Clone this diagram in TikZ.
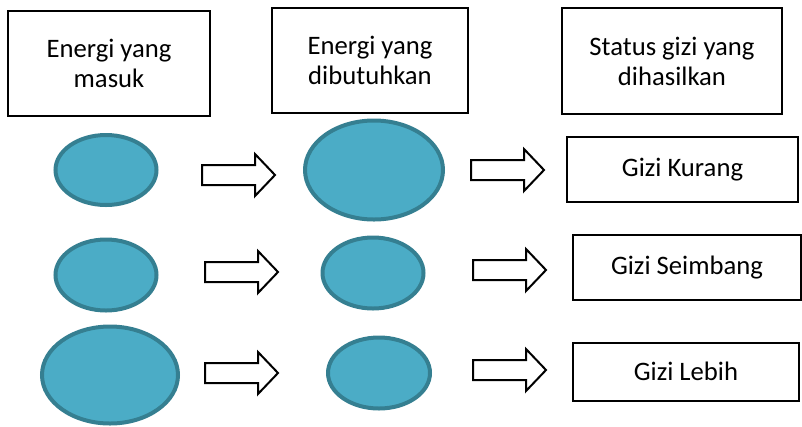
\documentclass[tikz,border=0pt]{standalone}
\usepackage{fontspec}
\setmainfont{Carlito}
\usetikzlibrary{shapes.geometric}
\definecolor{blobfill}{HTML}{4BACC6}
\definecolor{blobline}{HTML}{357F91}
\begin{document}
\begin{tikzpicture}[x=0.75pt,y=-0.75pt,
  font=\fontsize{20}{22.5}\selectfont,
  headbox/.style={draw,line width=1.5pt,align=center,inner sep=0pt},
  blob/.style={ellipse,draw=blobline,fill=blobfill,line width=3pt,inner sep=0pt},
  fatarrow/.pic={\draw[line width=1.5pt,line join=miter](0,-10)--(53,-10)--(53,-21)--(73,0)--(53,21)--(53,10)--(0,10)--cycle;}]
\useasboundingbox (0,0) rectangle (802,426);
% judul kolom
\node[headbox,minimum width=151.5pt,minimum height=78.75pt](masuk) at (109,63.5){Energi yang\\masuk};
\node[headbox,minimum width=147pt,minimum height=78.75pt](butuh) at (370,60.5){Energi yang\\dibutuhkan};
\node[headbox,minimum width=165pt,minimum height=79.5pt](hasil) at (672,61){Status gizi yang\\dihasilkan};
% baris 1
\node[blob,minimum width=75.75pt,minimum height=52.5pt](m1) at (106,170){};
\node[blob,minimum width=103.5pt,minimum height=74.25pt](b1) at (374,170){};
\node[headbox,minimum width=173.25pt,minimum height=48.75pt](kurang) at (682.5,169.5){Gizi Kurang};
% baris 2
\node[blob,minimum width=75.75pt,minimum height=53.25pt](m2) at (106,275){};
\node[blob,minimum width=75.75pt,minimum height=53.25pt](b2) at (373,273){};
\node[headbox,minimum width=171pt,minimum height=48.75pt](seimbang) at (687,267.5){Gizi Seimbang};
% baris 3
\node[blob,minimum width=102pt,minimum height=72.75pt](m3) at (110,375){};
\node[blob,minimum width=76.5pt,minimum height=53.25pt](b3) at (379,373){};
\node[headbox,minimum width=169.5pt,minimum height=43.5pt](lebih) at (686,371.5){Gizi Lebih};
% panah
\pic at (202,175){fatarrow};
\pic at (471,170){fatarrow};
\pic at (205,272){fatarrow};
\pic at (473,270){fatarrow};
\pic at (205,373){fatarrow};
\pic at (473,370){fatarrow};
\end{tikzpicture}
\end{document}
